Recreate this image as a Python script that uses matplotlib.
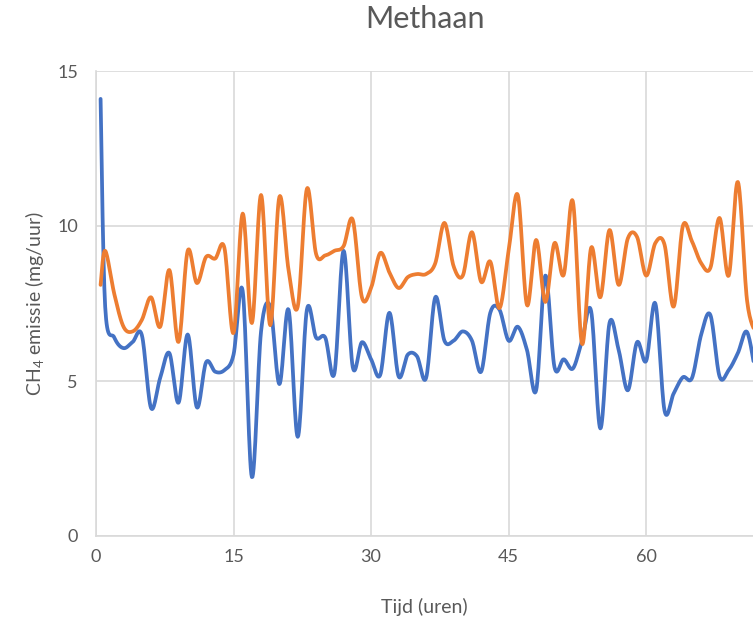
import numpy as np
import matplotlib
matplotlib.use('Agg')
import matplotlib.pyplot as plt

# uurwaarden
tijd = [0.5] + list(range(1, 73))

blauw = [14.1, 7.4, 6.4, 6.06, 6.26, 6.48, 4.13, 5.1, 5.9, 4.3,
         6.5, 4.15, 5.6, 5.3, 5.35, 5.85, 7.9, 1.9, 6.6, 7.4,
         4.9, 7.3, 3.2, 7.3, 6.4, 6.4, 5.25, 9.2, 5.45, 6.25,
         5.7, 5.2, 7.2, 5.15, 5.85, 5.8, 5.1, 7.7, 6.3, 6.3,
         6.6, 6.3, 5.3, 7.2, 7.3, 6.3, 6.75, 6.0, 4.7, 8.4,
         5.45, 5.7, 5.4, 6.3, 7.25, 3.47, 6.87, 6.0, 4.7, 6.25,
         5.65, 7.5, 4.05, 4.6, 5.12, 5.1, 6.5, 7.13, 5.15, 5.35,
         5.9, 6.58, 5.1]

oranje = [8.1, 9.2, 7.8, 6.75, 6.6, 6.97, 7.7, 6.75, 8.58, 6.26,
          9.2, 8.16, 9.0, 8.95, 9.3, 6.55, 10.4, 6.87, 11.0, 6.8,
          10.94, 8.58, 7.4, 11.2, 9.1, 9.05, 9.2, 9.35, 10.2, 7.7,
          8.0, 9.13, 8.5, 8.0, 8.35, 8.45, 8.45, 8.8, 10.1, 8.7,
          8.4, 9.8, 8.2, 8.85, 7.35, 9.2, 11.0, 7.45, 9.55, 7.55,
          9.45, 8.42, 10.8, 6.2, 9.3, 7.7, 9.87, 8.1, 9.6, 9.65,
          8.4, 9.45, 9.4, 7.4, 10.0, 9.5, 8.8, 8.65, 10.26, 8.4,
          11.42, 7.6, 6.5]

x_ticks = [0, 15, 30, 45, 60]
y_ticks = [0, 5, 10, 15]


def smooth(x, y, n=16):
    # gladde lijn zoals Excel (Catmull-Rom / Bezier)
    x = np.asarray(x, float)
    y = np.asarray(y, float)
    px = np.concatenate([[x[0]], x, [x[-1]]])
    py = np.concatenate([[y[0]], y, [y[-1]]])
    xs, ys = [], []
    t = np.linspace(0, 1, n, endpoint=False)
    for i in range(1, len(px) - 2):
        p0 = np.array([px[i], py[i]])
        p3 = np.array([px[i + 1], py[i + 1]])
        c1 = p0 + (np.array([px[i + 1], py[i + 1]]) - np.array([px[i - 1], py[i - 1]])) / 6
        c2 = p3 - (np.array([px[i + 2], py[i + 2]]) - np.array([px[i], py[i]])) / 6
        b = ((1 - t) ** 3)[:, None] * p0 + (3 * (1 - t) ** 2 * t)[:, None] * c1 \
            + (3 * (1 - t) * t ** 2)[:, None] * c2 + (t ** 3)[:, None] * p3
        xs.extend(b[:, 0])
        ys.extend(b[:, 1])
    xs.append(x[-1])
    ys.append(y[-1])
    return np.array(xs), np.array(ys)


plt.rcParams['font.family'] = ['Lato', 'DejaVu Sans']
plt.rcParams['mathtext.fontset'] = 'custom'
plt.rcParams['mathtext.rm'] = 'Lato'
plt.rcParams['mathtext.default'] = 'regular'

tekst = '#595959'
raster = '#D9D9D9'

fig = plt.figure(figsize=(7.53, 6.21), dpi=100)
ax = fig.add_axes([96 / 753, 1 - 536 / 621, 1 - 96 / 753, (536 - 71) / 621])

for serie, kleur in [(blauw, '#4472C4'), (oranje, '#ED7D31')]:
    sx, sy = smooth(tijd, serie)
    ax.plot(sx, sy, color=kleur, lw=2.7, solid_capstyle='round', clip_on=True, zorder=3)

ax.set_xlim(0, 71.65)
ax.set_ylim(0, 15)
ax.set_xticks(x_ticks)
ax.set_yticks(y_ticks)
ax.grid(True, color=raster, lw=1.2)
ax.set_axisbelow(True)
for s in ['top', 'right']:
    ax.spines[s].set_visible(False)
for s in ['left', 'bottom']:
    ax.spines[s].set_color(raster)
    ax.spines[s].set_linewidth(1.2)
ax.tick_params(length=0, labelsize=13, labelcolor=tekst)
ax.tick_params(axis='y', pad=13)
ax.tick_params(axis='x', pad=9)

ax.set_xlabel('Tijd (uren)', fontsize=14, color=tekst, labelpad=24)
ax.set_ylabel('CH$_4$ emissie (mg/uur)', fontsize=14, color=tekst, labelpad=8)
fig.text(425 / 753, 1 - 19 / 621, 'Methaan', fontsize=22, color=tekst,
         ha='center', va='center')

fig.savefig('out.png', dpi=100)
